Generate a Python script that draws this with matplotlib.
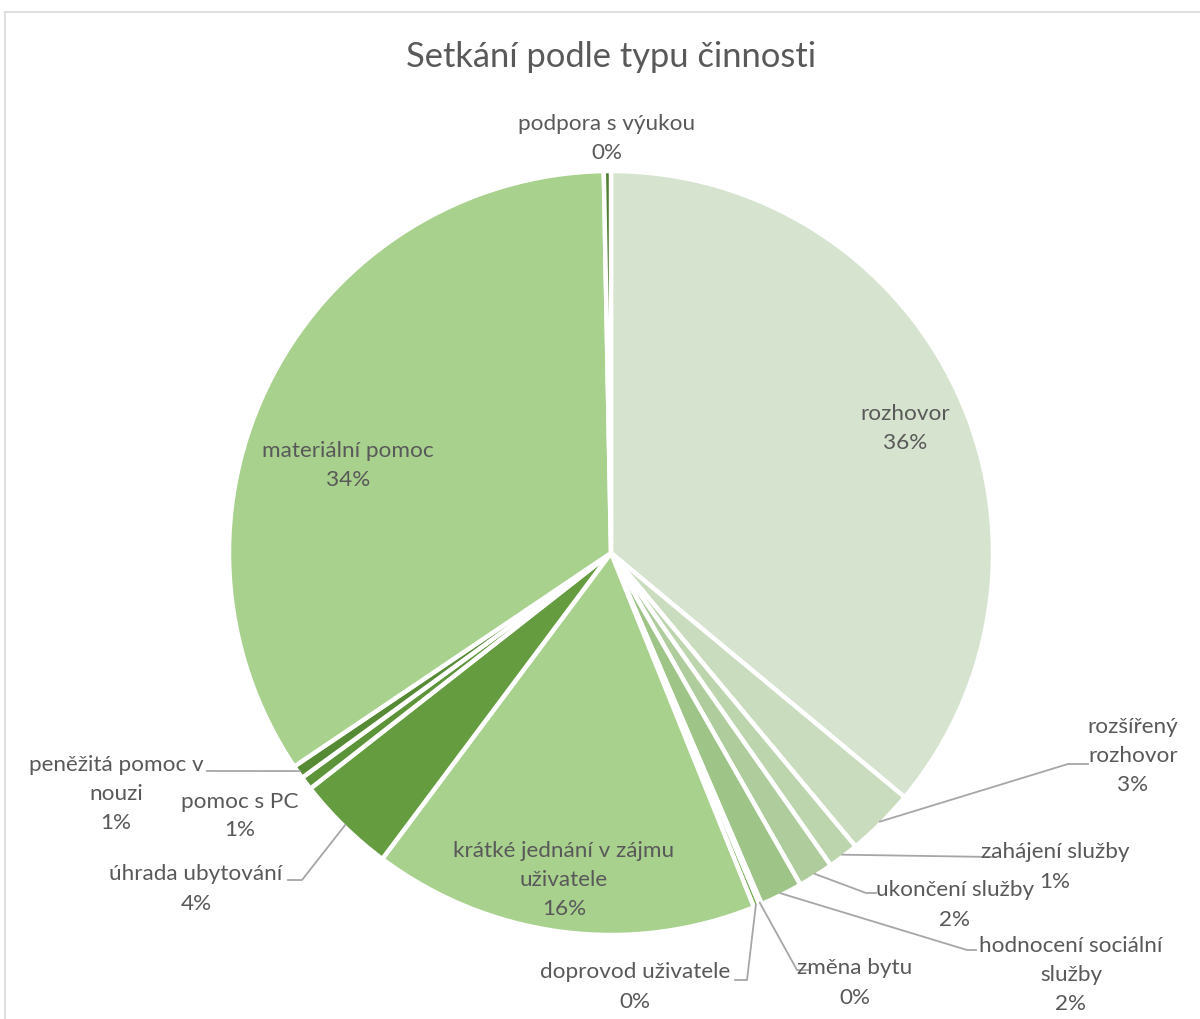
import numpy as np
import matplotlib
matplotlib.use("Agg")
import matplotlib.pyplot as plt
from matplotlib.lines import Line2D

# data (share in %), clockwise from 12 o'clock
categories = [
    "rozhovor",
    "rozšířený\nrozhovor",
    "zahájení služby",
    "ukončení služby",
    "hodnocení sociální\nslužby",
    "změna bytu",
    "doprovod uživatele",
    "krátké jednání v zájmu\nuživatele",
    "úhrada ubytování",
    "pomoc s PC",
    "peněžitá pomoc v\nnouzi",
    "materiální pomoc",
    "podpora s výukou",
]
shares = [36.0, 2.9, 1.3, 1.5, 1.8, 0.1, 0.25, 16.3, 4.2, 0.57, 0.57, 34.1, 0.3]
colors = ["#D6E4CF", "#C9DCBE", "#BCD5AD", "#AFCD9C", "#9EC487", "#82B65F",
          "#6FAA48", "#A9D18E", "#649C3F", "#5E9439", "#578A34", "#A9D18E",
          "#4E7F2F"]

# label placement in pixels (text centre, leader elbow, leader end) - layout only
PX_CX, PX_CY, PX_R = 611, 553, 382
LINE_STEP = 29  # px between label lines
label_pos = {
    0: (905, 428, None, None),
    1: (1133, 756, (1068, 764), (1088, 764)),
    2: (1055, 867, (993, 857), (993, 857)),
    3: (955, 905, (866, 893), (876, 893)),
    4: (1071, 975, (967, 950), (976, 950)),
    5: (855, 983, (797, 970), (808, 970)),
    6: (635, 987, (747, 980), (735, 980)),
    7: (564, 880, None, None),
    8: (196, 889, (302, 880), (288, 880)),
    9: (240, 816, None, None),
    10: (116, 794, (207, 771), (207, 771)),
    11: (348, 465, None, None),
    12: (607, 138, None, None),
}


def px(x, y):
    return (x - PX_CX) / PX_R, (PX_CY - y) / PX_R


plt.rcParams["font.family"] = ["Lato", "DejaVu Sans"]
text_color = "#595959"

fig = plt.figure(figsize=(12, 10.19), dpi=100)
ax = fig.add_axes([0, 0, 1, 1])

wedges, _ = ax.pie(shares, colors=colors, startangle=90, counterclock=False,
                   radius=1.0, center=(0, 0),
                   wedgeprops=dict(edgecolor="white", linewidth=3.2))

# pie() resets the limits, so set them afterwards
ax.set_xlim(-PX_CX / PX_R, (1200 - PX_CX) / PX_R)
ax.set_ylim(-(1019 - PX_CY) / PX_R, PX_CY / PX_R)
ax.set_aspect("equal")
ax.axis("off")

for i, w in enumerate(wedges):
    tx, ty, elbow, end = label_pos[i]
    lines = categories[i].split("\n") + [f"{shares[i]:.0f}%"]
    top = ty - LINE_STEP * (len(lines) - 1) / 2
    # one text per line so that each line keeps its own tight box
    for k, line in enumerate(lines):
        x, y = px(tx, top + k * LINE_STEP)
        ax.text(x, y, line, ha="center", va="center", fontsize=16.2,
                color=text_color)
    if elbow is not None:
        mid = np.deg2rad((w.theta1 + w.theta2) / 2)
        sx, sy = 0.995 * np.cos(mid), 0.995 * np.sin(mid)
        ex, ey = px(*elbow)
        fx, fy = px(*end)
        ax.add_line(Line2D([sx, ex, fx], [sy, ey, fy], color="#A6A6A6",
                           linewidth=1.3))

fig.text(0.509, 1 - 57 / 1019, "Setkání podle typu činnosti", ha="center",
         va="center", fontsize=24.8, color=text_color)

# chart area frame (only left and top visible in the crop)
fig.add_artist(Line2D([5 / 1200, 5 / 1200], [0, 1 - 12 / 1019],
                      transform=fig.transFigure, color="#D9D9D9", linewidth=1.2))
fig.add_artist(Line2D([5 / 1200, 1], [1 - 12 / 1019, 1 - 12 / 1019],
                      transform=fig.transFigure, color="#D9D9D9", linewidth=1.2))

fig.savefig("out.png", dpi=100, facecolor="white")
